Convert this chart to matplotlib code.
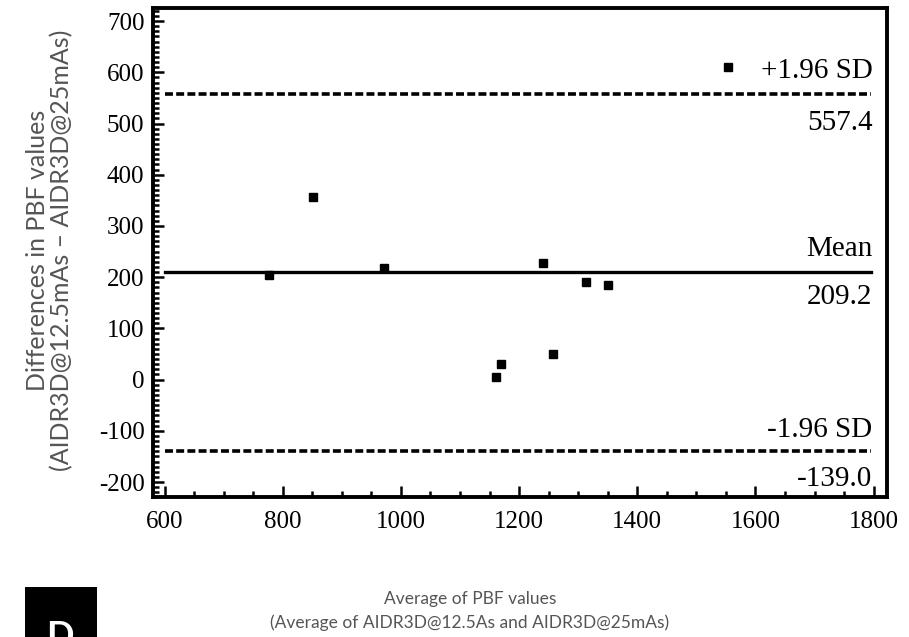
import matplotlib
matplotlib.use("Agg")
import matplotlib.pyplot as plt
from matplotlib.ticker import MultipleLocator
from matplotlib.patches import Rectangle

# Bland-Altman data
avg_pbf = [776, 851, 971, 1161, 1170, 1240, 1258, 1314, 1350, 1554]
diff_pbf = [205, 357, 217, 6, 31, 227, 49, 190, 184, 610]

mean_diff = 209.2
upper_loa = 557.4
lower_loa = -139.0
line_span = [600, 1795]

serif = "Liberation Serif"
sans = "Lato"
plt.rcParams["axes.unicode_minus"] = False

fig = plt.figure(figsize=(9.09, 6.37), dpi=100)
ax = fig.add_axes([0.168, 0.220, 0.808, 0.767])

# scatter points
ax.plot(avg_pbf, diff_pbf, linestyle="none", marker="s", markersize=5.8,
        color="black")

# mean and limits of agreement
ax.plot(line_span, [mean_diff, mean_diff], color="black", linewidth=2.4)
ax.plot(line_span, [upper_loa, upper_loa], color="black", linewidth=2.6,
        linestyle=(0, (2.2, 0.9)))
ax.plot(line_span, [lower_loa, lower_loa], color="black", linewidth=2.6,
        linestyle=(0, (2.2, 0.9)))

txt = dict(ha="right", va="center", fontsize=21, family=serif, color="black")
ax.text(1798, upper_loa + 45, "+1.96 SD", **txt)
ax.text(1798, upper_loa - 57, f"{upper_loa:.1f}", **txt)
ax.text(1798, mean_diff + 45, "Mean", **txt)
ax.text(1798, mean_diff - 48, f"{mean_diff:.1f}", **txt)
ax.text(1798, lower_loa + 41, "-1.96 SD", **txt)
ax.text(1798, lower_loa - 55, f"{lower_loa:.1f}", **txt)

ax.set_xlim(580, 1823)
ax.set_ylim(-229, 725)
ax.xaxis.set_major_locator(MultipleLocator(200))
ax.xaxis.set_minor_locator(MultipleLocator(50))
ax.yaxis.set_major_locator(MultipleLocator(100))
ax.yaxis.set_minor_locator(MultipleLocator(10))
ax.tick_params(which="both", direction="in", width=1.8, color="black",
               top=False, right=False)
ax.tick_params(which="major", length=8, labelsize=18)
ax.tick_params(axis="y", which="major", pad=6)
ax.tick_params(axis="x", which="major", pad=10)
ax.tick_params(which="minor", length=4)
for lab in ax.get_xticklabels() + ax.get_yticklabels():
    lab.set_family(serif)
for s in ax.spines.values():
    s.set_linewidth(2.8)

ax.set_xlabel("Average of PBF values\n(Average of AIDR3D@12.5As and AIDR3D@25mAs)",
              family=sans, fontsize=12.5, color="#555555", linespacing=1.55,
              va="center")
ax.xaxis.set_label_coords(0.432, -0.233)
ax.set_ylabel("Differences in PBF values\n(AIDR3D@12.5mAs \u2013 AIDR3D@25mAs)",
              family=sans, fontsize=18, color="#555555", linespacing=1.05,
              va="center")
ax.yaxis.set_label_coords(-0.140, 0.505)

# panel letter box at the bottom left
fig.patches.append(Rectangle((0.027, -0.02), 0.080, 0.098, transform=fig.transFigure,
                             facecolor="black", edgecolor="none"))
fig.text(0.066, -0.025, "D", color="white", fontsize=26, family=sans,
         ha="center", va="bottom", fontweight="bold")

fig.savefig("out.png", dpi=100)
